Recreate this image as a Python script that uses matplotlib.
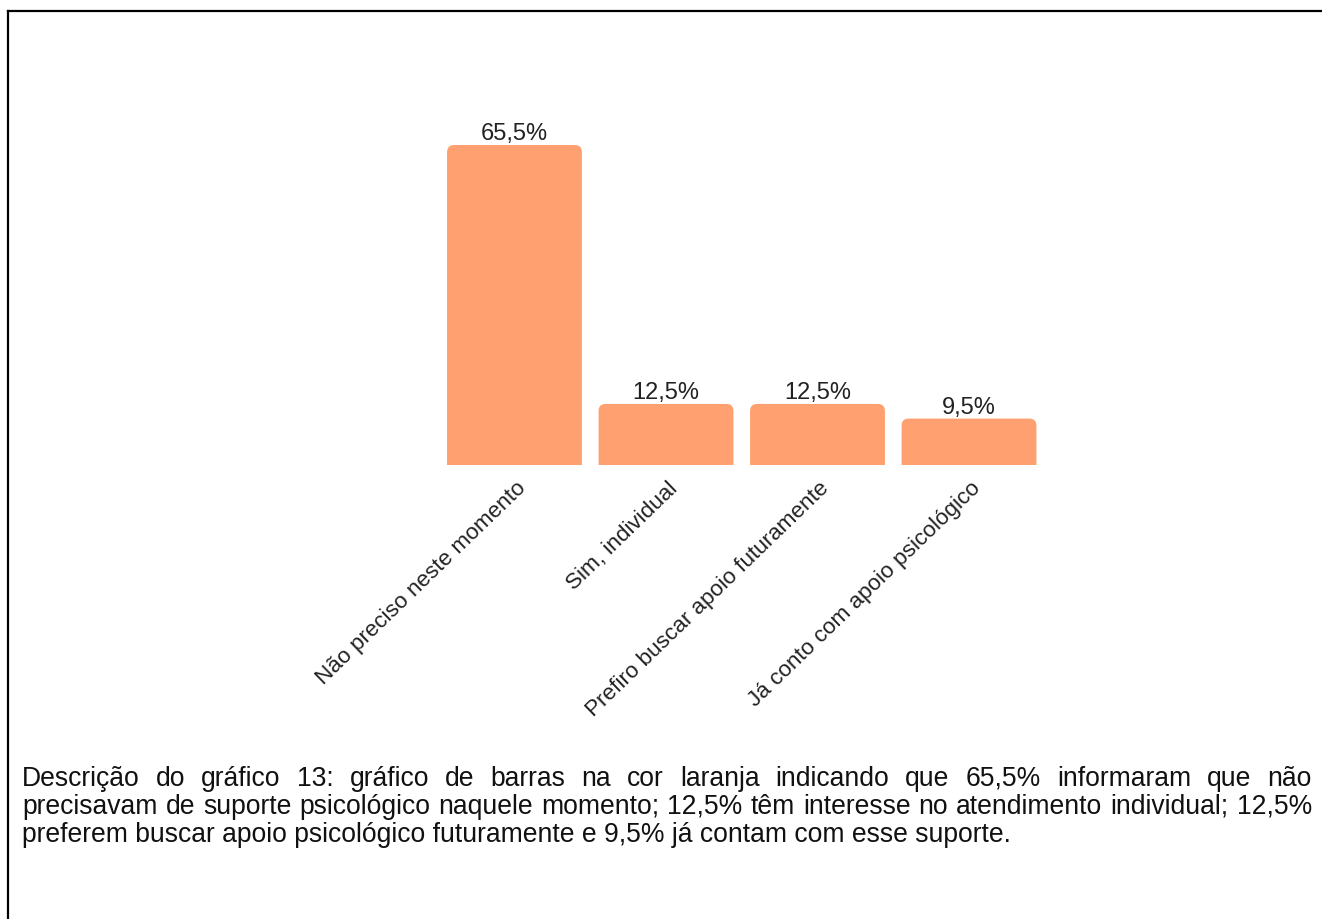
import matplotlib
matplotlib.use("Agg")
import matplotlib.pyplot as plt
import matplotlib.transforms as mtransforms
from matplotlib.patches import FancyBboxPatch
from matplotlib.lines import Line2D

# dados do gráfico 13
categorias = ["Não preciso neste momento", "Sim, individual",
              "Prefiro buscar apoio futuramente", "Já conto com apoio psicológico"]
valores = [65.5, 12.5, 12.5, 9.5]
rotulos = ["65,5%", "12,5%", "12,5%", "9,5%"]

descricao = [
    "Descrição do gráfico 13: gráfico de barras na cor laranja indicando que 65,5% informaram que não",
    "precisavam de suporte psicológico naquele momento; 12,5% têm interesse no atendimento individual; 12,5%",
    "preferem buscar apoio psicológico futuramente e 9,5% já contam com esse suporte.",
]

W, H = 1322, 920
plt.rcParams['font.family'] = ['Liberation Sans', 'DejaVu Sans']

fig = plt.figure(figsize=(W / 100, H / 100), dpi=100)
fig.patch.set_facecolor("white")

# eixo posicionado em pixels
x0, x1 = 438.75, 1044.75
base, ymax = 466, 70
px_per_unit = 4.885
ax = fig.add_axes([x0 / W, (H - base) / H, (x1 - x0) / W, ymax * px_per_unit / H])
ax.set_xlim(-0.5, 3.5)
ax.set_ylim(0, ymax)
for s in ax.spines.values():
    s.set_visible(False)
ax.set_yticks([])

cor = "#ffa070"
larg = 0.89
barras = ax.bar(range(len(valores)), valores, width=larg, color=cor)

# cantos superiores arredondados
xpp = 4 / (x1 - x0)
ypp = 1 / px_per_unit
r = 7 * xpp
for b in barras:
    b.set_visible(False)
    p = FancyBboxPatch((b.get_x(), -3), b.get_width(), b.get_height() + 3,
                       boxstyle=f"round,pad=0,rounding_size={r}",
                       mutation_aspect=ypp / xpp, facecolor=cor,
                       edgecolor="none", clip_on=True)
    ax.add_patch(p)

for i, (v, t) in enumerate(zip(valores, rotulos)):
    ax.annotate(t, (i, v), xytext=(0, 0.5), textcoords="offset points",
                ha="center", va="bottom", fontsize=17, color="#222222")

ax.set_xticks(range(len(categorias)))
ax.set_xticklabels(categorias, rotation=44, ha="right", va="center",
                   rotation_mode="anchor", fontsize=16.2, color="#222222")
ax.tick_params(axis="x", length=0, pad=14)
desloc = mtransforms.ScaledTranslation(9 / 100, 0, fig.dpi_scale_trans)
for lb in ax.get_xticklabels():
    lb.set_transform(lb.get_transform() + desloc)

# moldura
fig.add_artist(Line2D([8 / W, 8 / W], [0, 1 - 12 / H], color="black", lw=1.6,
                      transform=fig.transFigure))
fig.add_artist(Line2D([8 / W, 1], [1 - 12 / H, 1 - 12 / H], color="black", lw=1.6,
                      transform=fig.transFigure))

# texto justificado
fig.canvas.draw()
ren = fig.canvas.get_renderer()
esq, dir_ = 22, 1312
fs = 19.1
baselines = [786, 814, 842]


def largura(txt):
    t = fig.text(0, 0, txt, fontsize=fs)
    w = t.get_window_extent(ren).width
    t.remove()
    return w


for k, (linha, yb) in enumerate(zip(descricao, baselines)):
    y = 1 - yb / H
    if k == len(descricao) - 1:
        fig.text(esq / W, y, linha, fontsize=fs, va="baseline", ha="left", color="#111111")
        continue
    palavras = linha.split()
    ws = [largura(p) for p in palavras]
    gap = (dir_ - esq - sum(ws)) / (len(palavras) - 1)
    x = esq
    for p, w in zip(palavras, ws):
        fig.text(x / W, y, p, fontsize=fs, va="baseline", ha="left", color="#111111")
        x += w + gap

fig.savefig("out.png", dpi=100, facecolor="white")
